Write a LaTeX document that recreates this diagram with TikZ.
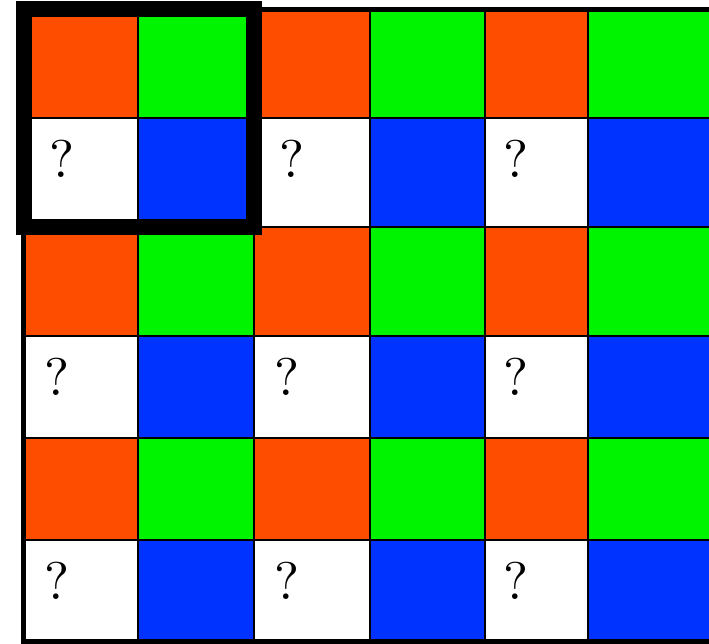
\documentclass[tikz,border=0pt]{standalone}
\usepackage{tikz}
\usepackage{graphicx}
\definecolor{bayerred}{HTML}{FF4D00}
\definecolor{bayergreen}{HTML}{00F400}
\definecolor{bayerblue}{HTML}{0033FF}
\newcommand{\bigq}{\scalebox{5.3}{\fontsize{10}{12}\selectfont ?}}
\begin{document}
\begin{tikzpicture}[
  x=1pt, y=-1pt,
  gridline/.style={draw=black, line width=2.5pt},
  border/.style={draw=black, line width=4.5pt},
  blockframe/.style={draw=black, line width=16pt},
  unknown/.style={inner sep=0pt},
]
\useasboundingbox (0,0) rectangle (709,644);
\foreach \xa/\xb [count=\c] in {24/138,138/254,254/370,370/485,485/588,588/715}
  \foreach \ya/\yb [count=\r] in {10/118,118/227,227/336,336/438,438/540,540/641} {
    \ifodd\r \ifodd\c \def\cellcol{bayerred}\else \def\cellcol{bayergreen}\fi
    \else \ifodd\c \def\cellcol{white}\else \def\cellcol{bayerblue}\fi\fi
    \fill[\cellcol] (\xa,\ya) rectangle (\xb,\yb);
  }
\foreach \x in {138,254,370,485,588}
  \draw[gridline] (\x,10) -- (\x,641);
\foreach \y in {118,227,336,438,540}
  \draw[gridline] (24,\y) -- (715,\y);
\draw[border] (23.5,9.5) -- (715,9.5);
\draw[border] (23.5,9.5) -- (23.5,641.5) -- (715,641.5);
\node[unknown] (q21) at (62,159)  {\bigq};
\node[unknown] (q23) at (292,159) {\bigq};
\node[unknown] (q25) at (516,159) {\bigq};
\node[unknown] (q41) at (57,377)  {\bigq};
\node[unknown] (q43) at (287,377) {\bigq};
\node[unknown] (q45) at (516,377) {\bigq};
\node[unknown] (q61) at (57,581)  {\bigq};
\node[unknown] (q63) at (287,581) {\bigq};
\node[unknown] (q65) at (516,581) {\bigq};
\draw[blockframe] (23.5,9) rectangle (254,227);
\end{tikzpicture}
\end{document}
